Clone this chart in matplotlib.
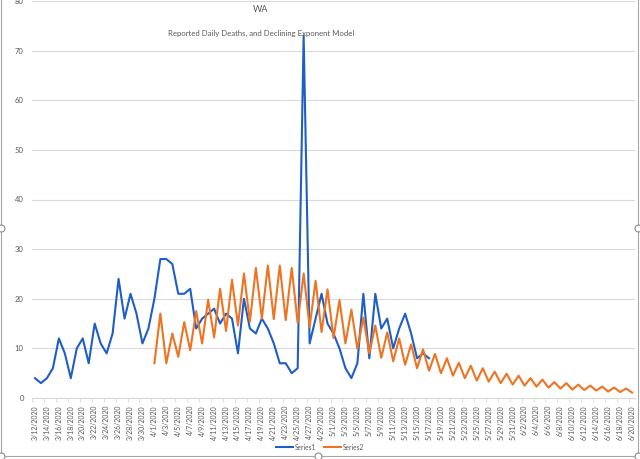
import pandas as pd
import matplotlib.pyplot as plt
from matplotlib.lines import Line2D

# 每日數據（由 3/12/2020 起算）
start_date = "2020-03-12"
n_days = 101

series1 = [4, 3, 4, 6, 12, 9, 4, 10, 12, 7,
           15, 11, 9, 13, 24, 16, 21, 17, 11, 14,
           20, 28, 28, 27, 21, 21, 22, 14, 16, 17,
           18, 15, 17, 16, 9, 20, 14, 13, 16, 14,
           11, 7, 7, 5, 6, 73, 11, 16, 21, 15,
           13, 10, 6, 4, 7, 21, 8, 21, 14, 16,
           10, 14, 17, 13, 8, 9, 8]

series2_start = 20
series2 = [7, 17, 7, 13, 8.3, 15.3, 9.6, 17.5, 11, 19.8,
           12.2, 22, 13.5, 23.8, 14.6, 25.1, 15.4, 26.2, 16, 26.7,
           15.9, 26.7, 15.7, 26.2, 15.1, 25.1, 14.3, 23.6, 13.3, 21.9,
           12.1, 19.7, 11, 17.8, 9.9, 16.2, 9, 14.6, 8.1, 13.2,
           7.4, 12, 6.7, 10.8, 6, 9.8, 5.5, 8.9, 5, 8,
           4.5, 7.1, 4, 6.5, 3.5, 6, 3.3, 5.3, 3, 4.9,
           2.7, 4.5, 2.5, 4, 2.3, 3.7, 2.1, 3.2, 1.9, 3.0,
           1.7, 2.7, 1.6, 2.5, 1.5, 2.3, 1.3, 2.1, 1.2, 1.9,
           1.1]

dates = pd.date_range(start_date, periods=n_days)
date_labels = [f"{d.month}/{d.day}/{d.year}" for d in dates]

blue = "#1f5ec6"
orange = "#ee7422"
grid_c = "#d9d9d9"
text_c = "#595959"

plt.rcParams['font.family'] = ['Lato', 'DejaVu Sans']

fig = plt.figure(figsize=(6.4, 4.59), dpi=100)
ax = fig.add_axes([32 / 640, 61 / 459, 603 / 640, 397 / 459])

x1 = list(range(len(series1)))
x2 = list(range(series2_start, series2_start + len(series2)))
ax.plot(x1, series1, color=blue, lw=1.5, label="Series1")
ax.plot(x2, series2, color=orange, lw=1.5, label="Series2")

ax.set_xlim(-0.5, n_days - 0.5)
ax.set_ylim(0, 80)
ax.set_yticks(range(0, 81, 10))
ax.yaxis.grid(True, color=grid_c, lw=0.8)
ax.set_axisbelow(True)

ax.set_xticks(range(0, n_days, 2))
ax.set_xticklabels(date_labels[::2], rotation=90, fontsize=5, color=text_c)
ax.set_xticks([i - 0.5 for i in range(0, n_days + 1, 2)], minor=True)
ax.tick_params(axis='x', which='major', length=0, pad=5)
ax.tick_params(axis='x', which='minor', length=3, color=grid_c)
ax.tick_params(axis='y', length=0, labelsize=5.5, labelcolor=text_c, pad=6)

for s in ['top', 'right', 'left']:
    ax.spines[s].set_visible(False)
ax.spines['bottom'].set_color(grid_c)

fig.text(261 / 640, 1 - 9 / 459, "WA", ha='center', va='center', fontsize=6.5, color=text_c)
fig.text(261 / 640, 1 - 33 / 459, "Reported Daily Deaths, and Declining Exponent Model",
         ha='center', va='center', fontsize=5.6, color=text_c)

fig.legend(loc='center', bbox_to_anchor=(320 / 640, 1 - 447 / 459), ncol=2, frameon=False,
           fontsize=4.8, labelcolor=text_c, handlelength=2.5, columnspacing=1.2, handletextpad=0.3)

# Excel 選取框
frame_c = "#a6a6a6"
fig.add_artist(Line2D([0.5 / 640, 0.5 / 640], [1, 1 - 455.5 / 459], color=frame_c, lw=0.8, transform=fig.transFigure))
fig.add_artist(Line2D([637.5 / 640, 637.5 / 640], [1, 1 - 455.5 / 459], color=frame_c, lw=0.8, transform=fig.transFigure))
fig.add_artist(Line2D([0, 637.5 / 640], [1 - 455.5 / 459, 1 - 455.5 / 459], color=frame_c, lw=0.8, transform=fig.transFigure))
for hx, hy in [(1, 228), (637.5, 228), (318, 455.5), (1, 455.5), (637.5, 455.5)]:
    fig.add_artist(Line2D([hx / 640], [1 - hy / 459], marker='o', markersize=5, mfc='white',
                          mec='#8c8c8c', mew=0.8, transform=fig.transFigure))

fig.savefig("out.png", dpi=100)
